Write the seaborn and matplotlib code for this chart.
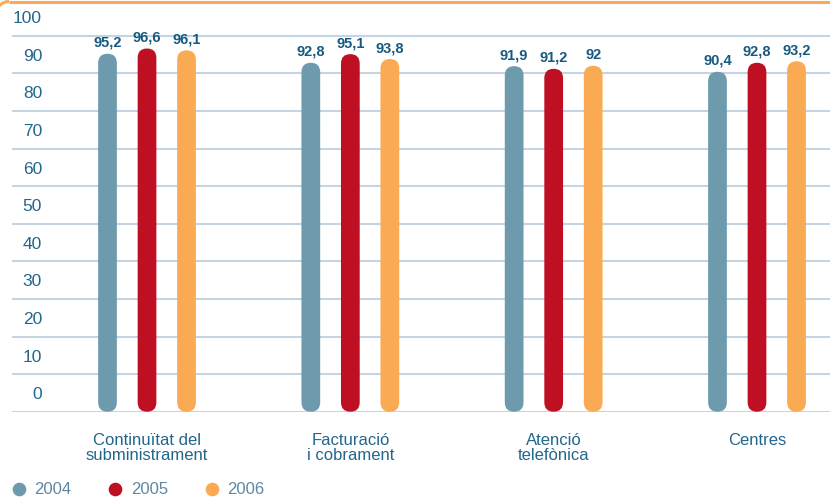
import matplotlib
matplotlib.use("Agg")
import matplotlib.pyplot as plt
from matplotlib.patches import FancyBboxPatch, Arc
from matplotlib.lines import Line2D
from matplotlib.transforms import IdentityTransform, blended_transform_factory
import seaborn as sns
import pandas as pd

categories = ["Continuïtat del\nsubministrament", "Facturació\ni cobrament",
              "Atenció\ntelefònica", "Centres"]
years = ["2004", "2005", "2006"]
v2004 = [95.2, 92.8, 91.9, 90.4]
v2005 = [96.6, 95.1, 91.2, 92.8]
v2006 = [96.1, 93.8, 92.0, 93.2]
yticks = list(range(0, 101, 10))

colors = ["#6E9AAE", "#BE1022", "#F9AA52"]
grid_c = "#C4D4E2"
text_c = "#22668C"
val_c = "#175A80"
leg_c = "#5F87A2"
orange = "#F9A95A"

rows = []
for yr, vals in zip(years, [v2004, v2005, v2006]):
    for c, v in zip(categories, vals):
        rows.append({"cat": c, "year": yr, "val": v})
df = pd.DataFrame(rows)

sns.set_style("white")
plt.rcParams["font.family"] = ["Liberation Sans", "DejaVu Sans"]

W, H = 830, 499
fig = plt.figure(figsize=(W / 100, H / 100), dpi=100)
ax_left, ax_bottom_px, ax_top_px = 12, 411.7, 0
ax = fig.add_axes([ax_left / W, (H - ax_bottom_px) / H, (W - ax_left) / W, (ax_bottom_px - ax_top_px) / H])

sns.barplot(data=df, x="cat", y="val", hue="year", order=categories, hue_order=years,
            palette=colors, width=0.583, gap=0.526, saturation=1, errorbar=None,
            legend=False, ax=ax)

xlim = (-0.664, 3.359)
ylim = (0, 109.5)
ax.set_xlim(*xlim)
ax.set_ylim(*ylim)

px_x = (W - ax_left) / (xlim[1] - xlim[0])
px_y = (ax_bottom_px - ax_top_px) / (ylim[1] - ylim[0])
asp = px_x / px_y

# rounded bars
bars = []
for p in list(ax.patches):
    x, y = p.get_x(), p.get_y()
    w, h = p.get_width(), p.get_height()
    fc = p.get_facecolor()
    p.remove()
    fb = FancyBboxPatch((x, y), w, h, boxstyle=f"round,pad=0,rounding_size={w/2}",
                        mutation_aspect=asp, fc=fc, ec="none", zorder=3)
    ax.add_patch(fb)
    bars.append((x + w / 2, y + h))

for cx, top in bars:
    txt = f"{top:g}".replace(".", ",")
    ax.annotate(txt, (cx, top), xytext=(0, 5), textcoords="offset points",
                ha="center", va="baseline", fontsize=10.5, fontweight="bold",
                color=val_c, zorder=4)

# grid
ax.set_yticks(yticks)
ax.set_yticklabels([])
ax.tick_params(axis="y", length=0)
ax.yaxis.grid(True, color=grid_c, linewidth=1.5)
ax.xaxis.grid(False)
ax.set_axisbelow(True)
for s in ax.spines.values():
    s.set_visible(False)

trans = blended_transform_factory(ax.transAxes, ax.transData)
for v in yticks:
    ax.text(0.0367, v + 4.5, str(v), transform=trans, ha="right", va="center",
            fontsize=12.5, color=text_c)

ax.set_xticks(range(len(categories)))
ax.set_xticklabels(categories, fontsize=12, color=text_c, linespacing=1.0)
ax.tick_params(axis="x", which="major", length=0, pad=15)
ax.set_xticks([0.5, 1.5, 2.5], minor=True)
ax.tick_params(axis="x", which="minor", direction="in", length=5.5, width=1.4, color=grid_c)
ax.set_xlabel("")
ax.set_ylabel("")

handles = [Line2D([], [], marker="o", ls="", markersize=8.8, color=c) for c in colors]
fig.legend(handles, years, loc="center left", bbox_to_anchor=(10.3 / W, 9 / H),
           bbox_transform=fig.transFigure, ncol=3, frameon=False, borderpad=0,
           borderaxespad=0, handlelength=1, handletextpad=0.42, columnspacing=2.16,
           fontsize=12, labelcolor=leg_c)

# top orange frame: straight top edge plus a rounded top-left corner
ytop = H - 1.5
r = 13
cx0 = -4 + r
fig.add_artist(Line2D([cx0, W + 10], [ytop, ytop], color=orange, lw=2.2,
                      transform=IdentityTransform(), solid_capstyle="butt"))
fig.add_artist(Arc((cx0, ytop - r), 2 * r, 2 * r, theta1=90, theta2=180,
                   color=orange, lw=2.2, transform=IdentityTransform()))

fig.savefig("out.png", dpi=100)
